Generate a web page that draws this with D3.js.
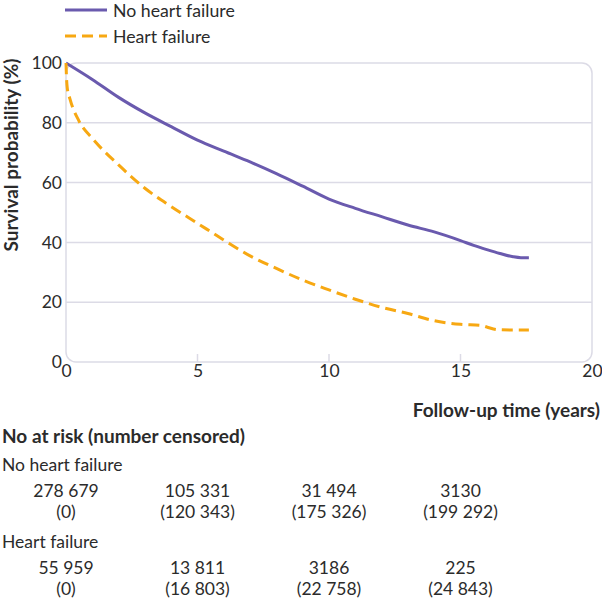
<!DOCTYPE html>
<html>
<head>
<meta charset="utf-8">
<script src="https://cdn.jsdelivr.net/npm/d3@7"></script>
<style>
  body { margin: 0; background: #fff; }
  svg { font-family: Lato, "Open Sans", sans-serif; }
</style>
</head>
<body>
<svg id="chart" width="602" height="600"></svg>
<script>
// survival curves (years, %)
let noHfTime = [0, 1, 2, 3, 4, 5, 6, 7, 8, 9, 10, 11, 12, 13, 14, 15, 15.5, 16, 16.5, 17, 17.3, 17.6]
let noHfSurv = [100, 94.5, 88.5, 83.3, 78.7, 74.2, 70.5, 66.9, 63.0, 58.8, 54.5, 51.4, 48.6, 45.8, 43.5, 40.6, 39.0, 37.6, 36.3, 35.2, 34.9, 34.9]

let hfTime = [0, 0.02, 0.05, 0.15, 0.5, 1, 2, 3, 4, 5, 6, 7, 8, 9, 10, 11, 12, 13, 14, 15, 15.8, 16, 16.4, 17, 17.6]
let hfSurv = [100, 95, 91.5, 88, 80.5, 74.8, 65.9, 58.1, 52.0, 46.4, 40.8, 35.5, 31.3, 27.4, 24.1, 21.0, 18.3, 16.2, 13.8, 12.6, 12.2, 11.7, 10.8, 10.7, 10.7]

let yTicks = [0, 20, 40, 60, 80, 100]
let xTicks = [0, 5, 10, 15, 20]

let groups = ["No heart failure", "Heart failure"]
let riskCols = [0, 5, 10, 15]
let atRisk = [
  ["278 679", "105 331", "31 494", "3130"],
  ["55 959", "13 811", "3186", "225"]
]
let censored = [
  ["(0)", "(120 343)", "(175 326)", "(199 292)"],
  ["(0)", "(16 803)", "(22 758)", "(24 843)"]
]

let purple = "#6a5aae"
let orange = "#f7a812"
let gridCol = "#dcdbe6"
let textCol = "#2b2b2b"
let fs = 17.5
let fsBold = 19

let svg = d3.select("#chart")

let x = d3.scaleLinear().domain([0, 20]).range([66, 592])
let y = d3.scaleLinear().domain([0, 100]).range([362, 63])

// frame + grid
svg.append("g").selectAll("line")
  .data(yTicks.filter(d => d > 0 && d < 100))
  .enter().append("line")
  .attr("x1", x(0)).attr("x2", x(20))
  .attr("y1", d => y(d)).attr("y2", d => y(d))
  .attr("stroke", gridCol).attr("stroke-width", 1.5)

svg.append("rect")
  .attr("x", x(0)).attr("y", y(100))
  .attr("width", x(20) - x(0)).attr("height", y(0) - y(100))
  .attr("rx", 10)
  .attr("fill", "none").attr("stroke", gridCol).attr("stroke-width", 1.5)

// small inner ticks on x
svg.append("g").selectAll("line")
  .data(xTicks.filter(d => d > 0 && d < 20))
  .enter().append("line")
  .attr("x1", d => x(d)).attr("x2", d => x(d))
  .attr("y1", y(0)).attr("y2", y(0) - 8)
  .attr("stroke", gridCol).attr("stroke-width", 1.5)

// axes (labels only)
let yAxis = svg.append("g")
  .attr("transform", `translate(${x(0) - 4},0)`)
  .call(d3.axisLeft(y).tickValues(yTicks).tickSize(0).tickPadding(0))
yAxis.select(".domain").remove()
yAxis.selectAll("text").attr("font-size", fs).attr("fill", textCol)
  .attr("font-family", "Lato, sans-serif")

let xAxis = svg.append("g")
  .attr("transform", `translate(0,${y(0) + 3})`)
  .call(d3.axisBottom(x).tickValues(xTicks).tickSize(0).tickPadding(0))
xAxis.select(".domain").remove()
xAxis.selectAll("text").attr("font-size", fs).attr("fill", textCol)
  .attr("font-family", "Lato, sans-serif")

svg.append("text")
  .attr("transform", "translate(18,155) rotate(-90)")
  .attr("text-anchor", "middle")
  .attr("font-size", fsBold).attr("font-weight", "bold").attr("fill", textCol)
  .text("Survival probability (%)")

svg.append("text")
  .attr("x", 600).attr("y", 417)
  .attr("text-anchor", "end")
  .attr("font-size", fsBold).attr("font-weight", "bold").attr("fill", textCol)
  .text("Follow-up time (years)")

// curves
let line = d3.line()
  .x(d => x(d[0]))
  .y(d => y(d[1]))
  .curve(d3.curveMonotoneX)

svg.append("path")
  .datum(d3.zip(noHfTime, noHfSurv))
  .attr("d", line)
  .attr("fill", "none").attr("stroke", purple).attr("stroke-width", 3)

svg.append("path")
  .datum(d3.zip(hfTime, hfSurv))
  .attr("d", line)
  .attr("fill", "none").attr("stroke", orange).attr("stroke-width", 3)
  .attr("stroke-dasharray", "11,6")

// legend
let legend = svg.append("g")
groups.forEach((g, i) => {
  let ly = 10 + i * 26
  legend.append("line")
    .attr("x1", 65).attr("x2", 107)
    .attr("y1", ly).attr("y2", ly)
    .attr("stroke", i == 0 ? purple : orange).attr("stroke-width", 3)
    .attr("stroke-dasharray", i == 0 ? null : "11,6")
  legend.append("text")
    .attr("x", 113).attr("y", ly + 7)
    .attr("font-size", 17.7).attr("fill", textCol)
    .text(g)
})

// number at risk table, columns line up with x ticks
svg.append("text")
  .attr("x", 2).attr("y", 443)
  .attr("font-size", fsBold).attr("font-weight", "bold").attr("fill", textCol)
  .text("No at risk (number censored)")

groups.forEach((g, i) => {
  let top = 471 + i * 77
  svg.append("text")
    .attr("x", 2).attr("y", top)
    .attr("font-size", fs).attr("fill", textCol)
    .text(g)
  svg.append("g").selectAll("text")
    .data(riskCols)
    .enter().append("text")
    .attr("x", d => x(d)).attr("y", top + 26)
    .attr("text-anchor", "middle")
    .attr("font-size", fs).attr("fill", textCol)
    .text((d, j) => atRisk[i][j])
  svg.append("g").selectAll("text")
    .data(riskCols)
    .enter().append("text")
    .attr("x", d => x(d)).attr("y", top + 47)
    .attr("text-anchor", "middle")
    .attr("font-size", fs).attr("fill", textCol)
    .text((d, j) => censored[i][j])
})
</script>
</body>
</html>
